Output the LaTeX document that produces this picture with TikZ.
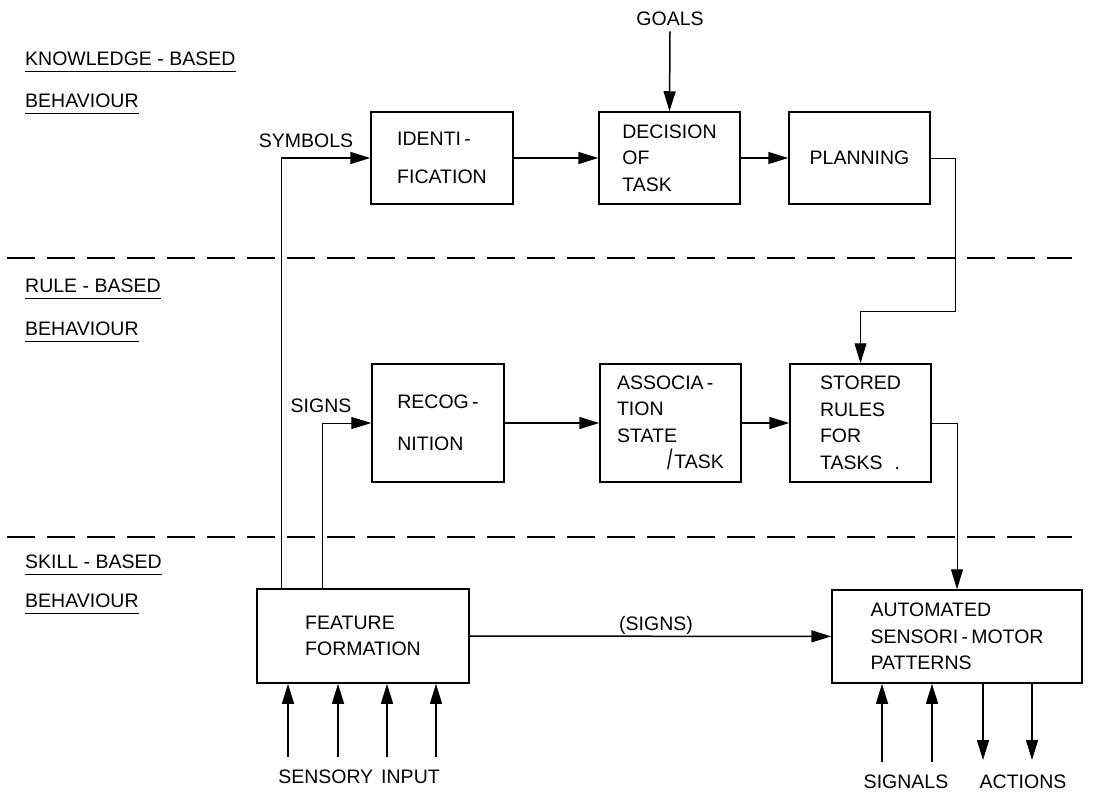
\documentclass[tikz,border=0pt]{standalone}
\usepackage{fontspec}
\setmainfont{Liberation Sans}
\usetikzlibrary{arrows.meta,calc}
\begin{document}
\begin{tikzpicture}[x=1pt,y=-1pt,
  blk/.style={draw, line width=1.5pt, align=left, inner sep=0pt, font=\fontsize{19.5}{26.5}\selectfont},
  lbl/.style={font=\fontsize{19.5}{22}\selectfont, inner sep=0pt},
  conn/.style={line width=1.5pt, -{Triangle[length=20pt,width=12pt]}},
  thinconn/.style={line width=1pt, -{Triangle[length=20pt,width=12pt]}},
  divider/.style={line width=2pt, dash pattern=on 28pt off 12pt},
  uline/.style={line width=1.4pt}]
\useasboundingbox (0,0) rectangle (1119,795);

% level dividers
\coordinate (d1a) at (7,258); \coordinate (d1b) at (1072,258);
\coordinate (d2a) at (7,537); \coordinate (d2b) at (1072,537);
\draw[divider] (d1a) -- (d1b);
\draw[divider] (d2a) -- (d2b);

% level labels
\node[lbl, anchor=base west] (kb) at (25,65) {KNOWLEDGE - BASED};
\node[lbl, anchor=base west] (kbb) at (25,107) {BEHAVIOUR};
\node[lbl, anchor=base west] (rb) at (25,292) {RULE - BASED};
\node[lbl, anchor=base west] (rbb) at (25,335) {BEHAVIOUR};
\node[lbl, anchor=base west] (sb) at (25,568) {SKILL - BASED};
\node[lbl, anchor=base west] (sbb) at (25,607) {BEHAVIOUR};
\foreach \n in {kb,kbb,rb,rbb,sb,sbb}
  \draw[uline] ([yshift=-6.5pt]\n.base west) -- ([yshift=-6.5pt]\n.base east);

% boxes
\node[blk, minimum width=142pt, minimum height=92pt] (ident) at (442,158) {IDENTI\,-\\[11.5pt]FICATION};
\node[blk, minimum width=141pt, minimum height=92pt] (decision) at (669.5,158) {DECISION\\OF\\TASK};
\node[blk, minimum width=141pt, minimum height=92pt] (planning) at (859.5,158) {PLANNING};
\node[blk, minimum width=132pt, minimum height=118pt] (recog) at (438,423) {RECOG\,-\\[15.5pt]NITION};
\node[blk, minimum width=141pt, minimum height=118pt] (assoc) at (670.5,423) {ASSOCIA\,-\\TION\\STATE\\\hspace*{50pt}\raisebox{-1pt}{\scalebox{1}[1.45]{/}}\hspace{2pt}TASK};
\node[blk, minimum width=141pt, minimum height=118pt] (stored) at (860.5,423) {STORED\\RULES\\FOR\\TASKS\hspace{12pt}.};
\node[blk, minimum width=212pt, minimum height=94pt] (feature) at (363,636) {FEATURE\\FORMATION};
\node[blk, minimum width=250pt, minimum height=93pt] (auto) at (957,636.5) {AUTOMATED\\SENSORI\,-\,MOTOR\\PATTERNS};

% free texts
\node[lbl, anchor=base] (goals) at (670,25) {GOALS};
\node[lbl, anchor=base] (symbols) at (306,147) {SYMBOLS};
\node[lbl, anchor=base] (signs) at (321,412) {SIGNS};
\node[lbl, anchor=base] (signs2) at (656,630) {(SIGNS)};
\node[lbl, anchor=base] (sensory) at (359,783) {SENSORY\hspace{8pt}INPUT};
\node[lbl, anchor=base] (signals) at (906,788) {SIGNALS};
\node[lbl, anchor=base] (actions) at (1023,788) {ACTIONS};

% knowledge level
\draw[conn] ([xshift=25pt]feature.north west) |- (ident.west);
\draw[conn] (ident) -- (decision);
\draw[conn] (decision) -- (planning);
\draw[conn] ([yshift=-6pt]goals.south) -- (decision.north);
\coordinate (p1) at (955,311);
\draw[thinconn] (planning.east) -| (p1) -| (stored.north);

% rule level
\draw[thinconn] ([xshift=66pt]feature.north west) |- (recog.west);
\draw[conn] (recog) -- (assoc);
\draw[conn] (assoc) -- (stored);
\draw[thinconn] (stored.east) -| (auto.north);

% skill level
\draw[conn] (feature) -- (auto);
\foreach \i/\x in {1/288,2/338,3/387,4/436}{
  \coordinate (si\i) at (\x,757);
  \draw[conn] (si\i) -- (si\i |- feature.south);
}
\foreach \i/\x in {1/882,2/932}{
  \coordinate (sg\i) at (\x,762);
  \draw[conn] (sg\i) -- (sg\i |- auto.south);
}
\foreach \i/\x in {1/983,2/1032}{
  \coordinate (ac\i) at (\x,760);
  \draw[conn] (ac\i |- auto.south) -- (ac\i);
}
\end{tikzpicture}
\end{document}
